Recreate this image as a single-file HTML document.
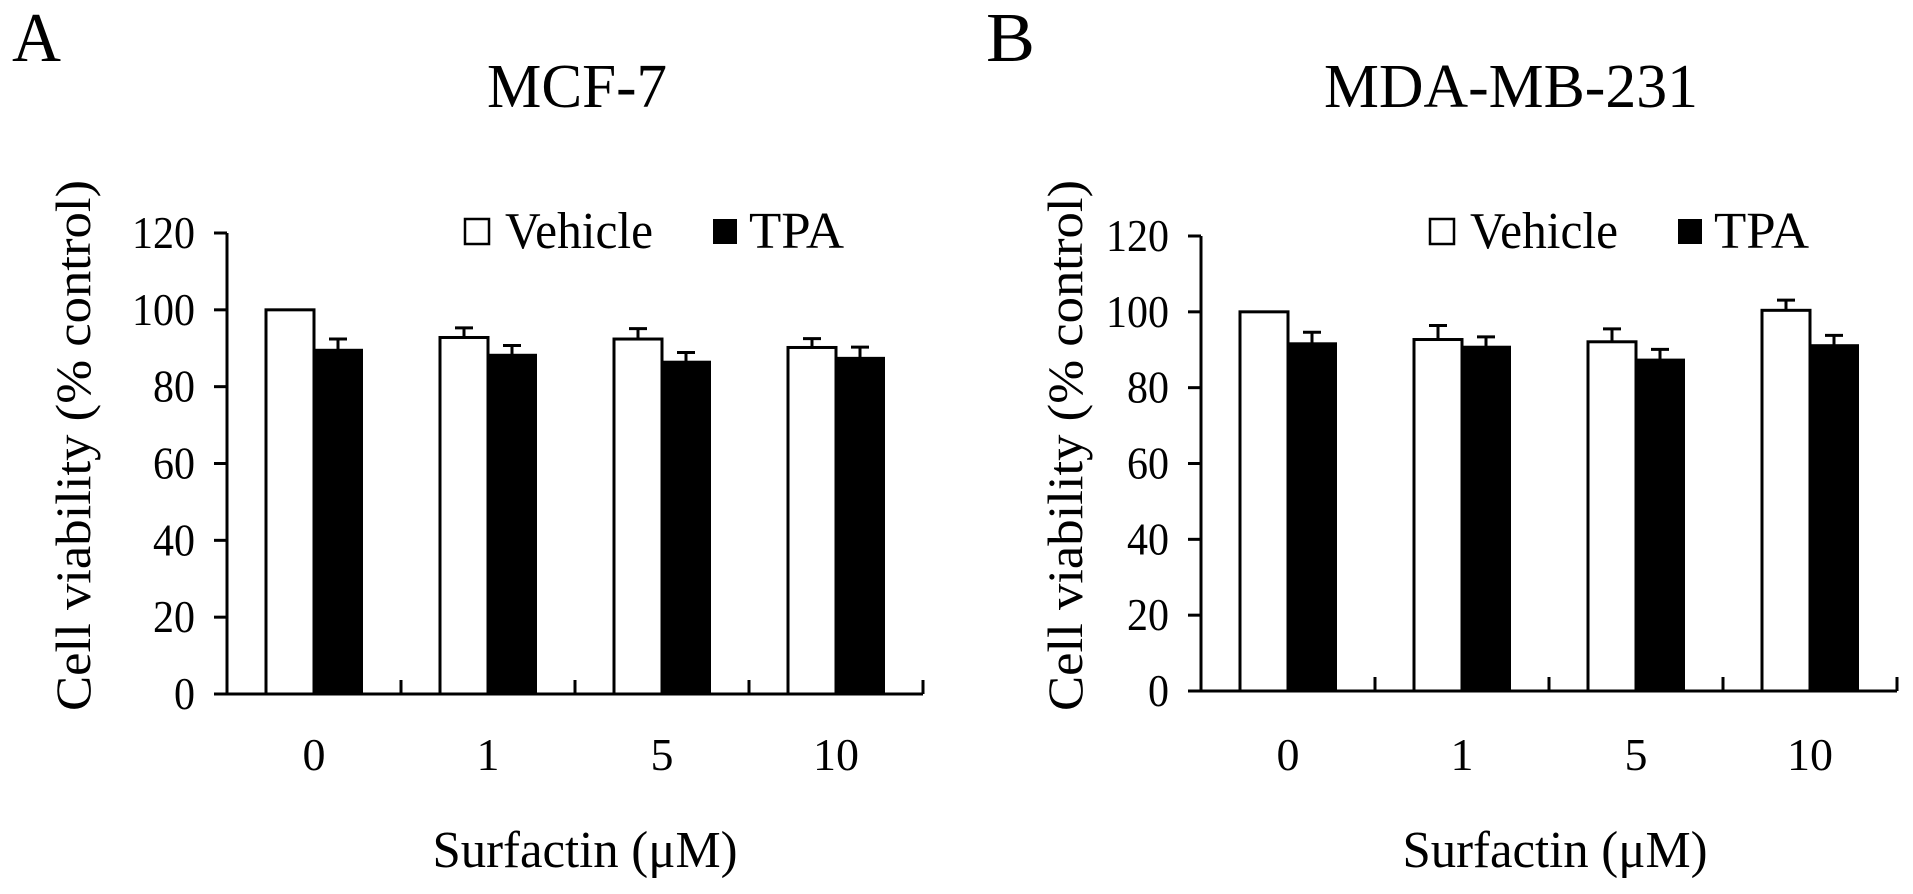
<!DOCTYPE html>
<html><head><meta charset="utf-8"><style>
html,body{margin:0;padding:0;background:#fff;}
svg{display:block;font-family:"Liberation Serif",serif;}
</style></head><body>
<svg id="fig" width="1913" height="894" viewBox="0 0 1913 894"></svg>
<script>
const categories = ["0","1","5","10"];
const yTicks = [0,20,40,60,80,100,120];
const mcfVehicle = [100, 92.8, 92.4, 90.2];
const mcfVehicleErr = [0, 2.5, 2.7, 2.3];
const mcfTPA = [89.6, 88.3, 86.5, 87.5];
const mcfTPAErr = [2.8, 2.4, 2.4, 2.8];
const mdaVehicle = [100, 92.7, 92.1, 100.4];
const mdaVehicleErr = [0, 3.7, 3.4, 2.7];
const mdaTPA = [91.7, 90.8, 87.4, 91.2];
const mdaTPAErr = [2.9, 2.6, 2.7, 2.6];

const NS="http://www.w3.org/2000/svg";
const svg=document.getElementById('fig');
function mk(tag,attrs,parent){const e=document.createElementNS(NS,tag);for(const k in attrs)e.setAttribute(k,attrs[k]);(parent||svg).appendChild(e);return e;}

function panel(cfg){
  const g=mk('g',{});
  
  
  const x0=cfg.x0, x1=cfg.x1, yZero=cfg.yZero, yTop=cfg.yTop;
  const yScale=v=>yZero-(v/120)*(yZero-yTop);
  const catW=(x1-x0)/categories.length;
  const xCenter=i=>x0+catW*(i+0.5);
  const bw=48;
  const L=mk('text',{x:cfg.letterX,y:61,'font-size':70,textLength:49,lengthAdjust:'spacingAndGlyphs'},g); L.textContent=cfg.letter;
  
  
  const T=mk('text',{x:cfg.titleX,y:107,'font-size':62,'text-anchor':'middle',textLength:cfg.titleW,lengthAdjust:'spacingAndGlyphs'},g); T.textContent=cfg.title;
  
  
  const yl=mk('text',{x:0,y:0,'font-size':50,'text-anchor':'middle',transform:`translate(${cfg.ylabX},${(yTop+yZero)/2-18}) rotate(-90)`,textLength:531,lengthAdjust:'spacingAndGlyphs'},g);
  yl.textContent='Cell viability (% control)';
  
  
  categories.forEach((c,i)=>{
    const cx=xCenter(i);
    const vv=cfg.veh[i], tv=cfg.tpa[i];
    const vy=yScale(vv), ty=yScale(tv);
    const ve=yScale(vv+cfg.vehErr[i]), te=yScale(tv+cfg.tpaErr[i]);
    if(cfg.vehErr[i]>0){
      const e1=mk('path',{d:`M${cx-bw/2},${vy} V${ve} M${cx-bw/2-9},${ve} H${cx-bw/2+9}`,stroke:'#000','stroke-width':3,fill:'none'},g);
      
      
    }
    const e2=mk('path',{d:`M${cx+bw/2},${ty} V${te} M${cx+bw/2-9},${te} H${cx+bw/2+9}`,stroke:'#000','stroke-width':3,fill:'none'},g);
    
    
    const b1=mk('rect',{x:cx-bw,y:vy,width:bw,height:yZero-vy,fill:'#fff',stroke:'#000','stroke-width':3},g);
    
    
    const b2=mk('rect',{x:cx,y:ty,width:bw,height:yZero-ty,fill:'#000',stroke:'#000','stroke-width':2},g);
    
    
    const cl=mk('text',{x:cx,y:770,'font-size':46,'text-anchor':'middle'},g); cl.textContent=c;
    
    
    const tk=mk('line',{x1:x0+catW*(i+1),x2:x0+catW*(i+1),y1:yZero,y2:yZero-14,stroke:'#000','stroke-width':3},g);
    
    
  });
  const ax=mk('path',{d:`M${x0},${yTop} V${yZero} H${x1}`,stroke:'#000','stroke-width':3,fill:'none'},g);
  
  
  yTicks.forEach(t=>{
    const y=yScale(t);
    const l=mk('line',{x1:x0-13,x2:x0,y1:y,y2:y,stroke:'#000','stroke-width':3},g);
    
    
    const s=String(t);
    const tx=mk('text',{x:x0-32,y:y+15,'font-size':46,'text-anchor':'end',textLength:21*s.length,lengthAdjust:'spacingAndGlyphs'},g); tx.textContent=s;
    
    
  });
  const xt=mk('text',{x:cfg.xlabX,y:867,'font-size':52,'text-anchor':'middle',textLength:305,lengthAdjust:'spacingAndGlyphs'},g);
  xt.textContent='Surfactin (μM)';
  
  
  const lb1=mk('rect',{x:cfg.legX,y:219,width:24,height:25,fill:'#fff',stroke:'#000','stroke-width':2.5},g);
  
  
  const lt1=mk('text',{x:cfg.legX+40,y:248,'font-size':52,textLength:148,lengthAdjust:'spacingAndGlyphs'},g); lt1.textContent='Vehicle';
  
  
  const lb2=mk('rect',{x:cfg.legX+248,y:219,width:24,height:25,fill:'#000'},g);
  
  
  const lt2=mk('text',{x:cfg.legX+284,y:248,'font-size':52,textLength:95,lengthAdjust:'spacingAndGlyphs'},g); lt2.textContent='TPA';
  
  
}

panel({name:'panel-a-mcf7',letter:'A',letterX:12,title:'MCF-7',titleX:577,titleW:180,ylabX:90,
  x0:227,x1:923,yZero:694,yTop:233,veh:mcfVehicle,vehErr:mcfVehicleErr,tpa:mcfTPA,tpaErr:mcfTPAErr,xlabX:585,legX:465});
panel({name:'panel-b-mda',letter:'B',letterX:986,title:'MDA-MB-231',titleX:1511,titleW:374,ylabX:1082,
  x0:1201,x1:1897,yZero:691,yTop:236,veh:mdaVehicle,vehErr:mdaVehicleErr,tpa:mdaTPA,tpaErr:mdaTPAErr,xlabX:1555,legX:1430});
</script>
</body></html>
